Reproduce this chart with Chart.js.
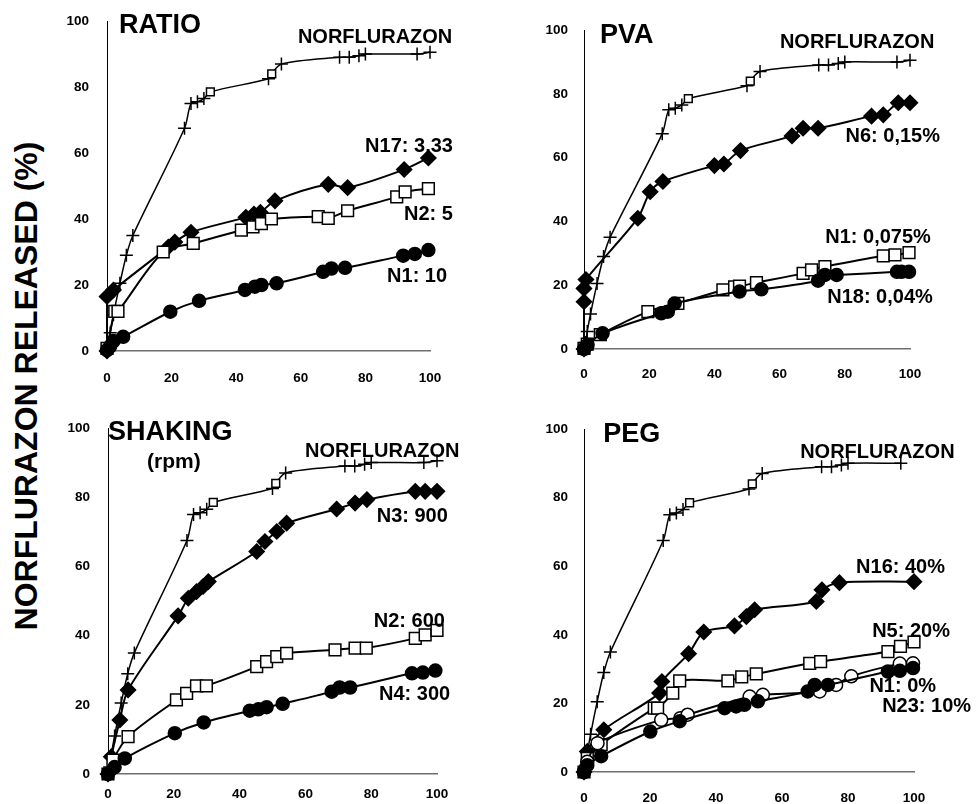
<!DOCTYPE html>
<html>
<head>
<meta charset="utf-8">
<script src="https://cdn.jsdelivr.net/npm/chart.js@4/dist/chart.umd.min.js"></script>
<style>
  body { margin: 0; background: #fff; width: 976px; height: 804px; overflow: hidden; position: relative; }
  canvas { position: absolute; }
  #ytitle {
    position: absolute; left: 26px; top: 386px;
    transform: translate(-50%, -50%) rotate(-90deg);
    font: bold 32px "Liberation Sans", Arial, sans-serif;
    white-space: nowrap; color: #000;
  }
</style>
</head>
<body>
<div id="ytitle">NORFLURAZON RELEASED (%)</div>
<canvas id="ratio"></canvas>
<canvas id="pva"></canvas>
<canvas id="shaking"></canvas>
<canvas id="peg"></canvas>
<script>
// time axis (0-100) and % released

// free norflurazon, same curve in every panel
const norfTime = [0, 0.5, 1, 2, 4, 6, 8, 24, 26, 28, 30, 32, 50, 51, 54, 72, 75, 78, 80, 96, 100];
const norfRel = [0, 2, 5.5, 11, 20.5, 29, 35, 67.5, 75, 75.5, 76.5, 78.5, 82.5, 84, 87, 89, 89, 89.5, 90, 90, 90.5];

// RATIO
const ratioN17X = [0, 0, 2, 19, 21, 26, 43, 45.5, 47.5, 52, 68.5, 74.5, 92, 99.5];
const ratioN17Y = [0, 16.5, 18.5, 31.5, 33, 36, 40.5, 41.5, 42, 45.5, 50.5, 49.5, 55, 58.5];
const ratioN2X = [0, 2.4, 3.4, 17.4, 26.7, 41.6, 45.2, 47.8, 50.9, 65.4, 68.5, 74.5, 89.7, 92.3, 99.5];
const ratioN2Y = [0.8, 12, 12, 30, 32.6, 36.6, 37.6, 38.6, 40, 40.7, 40.2, 42.5, 46.7, 48.2, 49.2];
const ratioN1X = [0, 1, 2, 5, 19.6, 28.5, 42.7, 45.8, 47.8, 52.5, 66.9, 69.5, 73.7, 91.7, 95.3, 99.5];
const ratioN1Y = [0.3, 1.5, 3, 4.3, 11.9, 15.2, 18.5, 19.5, 20, 20.5, 24, 25, 25.2, 28.9, 29.4, 30.6];

// PVA
const pvaN6X = [0, 0, 0, 0.6, 16.5, 20.3, 24.2, 40, 42.9, 48, 63.8, 67.2, 71.8, 88.2, 91.8, 96.4, 100];
const pvaN6Y = [0, 14.8, 19, 21.8, 41, 49.3, 52.5, 57.5, 58, 62.2, 66.8, 69.2, 69.2, 73, 73.4, 77.2, 77.2];
const pvaN1X = [0, 1, 5, 19.6, 28.8, 42.6, 46.2, 47.7, 52.9, 67.2, 69.8, 73.9, 91.8, 95.4, 99.7];
const pvaN1Y = [0.2, 1.5, 4.5, 11.7, 14.3, 18.5, 19.5, 19.7, 20.8, 23.7, 24.8, 25.8, 29.2, 29.5, 30.2];
const pvaN18X = [0, 1.1, 5.7, 23.7, 25.7, 27.8, 47.7, 54.4, 71.8, 73.9, 77.5, 96, 97.4, 99.7];
const pvaN18Y = [0, 1.3, 4.9, 11.2, 11.7, 14.3, 18, 18.7, 21.4, 23.2, 23.2, 24.2, 24.2, 24.2];

// SHAKING (rpm)
const shakeN3X = [0, 1, 3.6, 6.1, 21.3, 24.4, 26.9, 28.9, 30.5, 45.2, 47.7, 51.3, 54.3, 69.5, 75.1, 78.7, 93.4, 96.4, 100];
const shakeN3Y = [0, 5, 15.6, 24.3, 45.7, 50.8, 52.7, 54.2, 55.6, 64.3, 67.2, 70.1, 72.5, 76.6, 78.3, 79.3, 81.7, 81.7, 81.7];
const shakeN2X = [0, 1.5, 6.1, 20.8, 23.9, 26.9, 29.9, 45.2, 48.2, 51.3, 54.3, 69, 75.1, 78.5, 93.4, 96.4, 100];
const shakeN2Y = [0, 4, 10.8, 21.4, 23.3, 25.5, 25.5, 31, 32.5, 33.9, 34.9, 35.9, 36.4, 36.4, 39.2, 40.2, 41.5];
const shakeN4X = [0, 2, 5.1, 20.3, 29.1, 43.1, 45.7, 48.2, 53.1, 68, 70.4, 73.6, 92.4, 95.7, 99.5];
const shakeN4Y = [0, 2, 4.5, 11.8, 14.9, 18.3, 18.7, 19.3, 20.3, 23.8, 25, 25, 29.1, 29.3, 29.9];

// PEG
const pegN16X = [0, 1, 6, 22.9, 23.6, 31.7, 36.3, 45.6, 49.2, 51.7, 70.4, 72.1, 77.4, 100];
const pegN16Y = [0, 6, 12.3, 23, 26.4, 34.5, 40.8, 42.6, 45.3, 47.3, 49.7, 53.1, 55.2, 55.5];
const pegN5X = [0, 1, 5.2, 21.3, 22.3, 26.9, 29, 43.6, 47.8, 52.2, 68.4, 71.7, 92.1, 95.9, 100];
const pegN5Y = [0, 4, 8, 18.6, 18.6, 23, 26.6, 26.6, 27.7, 28.6, 31.7, 32.2, 35.1, 36.6, 37.9];
const pegN1X = [0, 1, 5.2, 20.1, 29, 42.6, 46.1, 48.6, 52.7, 67.8, 69.9, 73.9, 92.1, 95.7, 99.7];
const pegN1Y = [0, 2, 4.6, 11.8, 14.8, 18.6, 19.1, 19.6, 20.6, 23.5, 25.4, 25.4, 29.3, 29.5, 30.3];
const pegN23X = [0, 1, 4.1, 23.4, 29.2, 31.4, 50.2, 54.2, 71.4, 76.4, 81, 95.7, 99.7];
const pegN23Y = [0, 3, 8.4, 15.2, 15.7, 16.7, 22, 22.5, 23.5, 25.4, 27.9, 31.6, 31.7];

const axisTicks = [0, 20, 40, 60, 80, 100];

const FONT = '"Liberation Sans", Arial, sans-serif';

function pts(xs, ys) {
    return xs.map((x, i) => ({ x: x, y: ys[i] }));
}

// marker looks
const MARK = {
    diamond: { pointStyle: 'rectRot', pointRadius: 7.5, pointBackgroundColor: '#000' },
    square: { pointStyle: 'rect', pointRadius: 8.3, pointBackgroundColor: '#fff' },
    dot: { pointStyle: 'circle', pointRadius: 6.5, pointBackgroundColor: '#000' },
    ring: { pointStyle: 'circle', pointRadius: 6.5, pointBackgroundColor: '#fff' }
};

function series(xs, ys, mark) {
    return Object.assign({
        data: pts(xs, ys),
        borderColor: '#000',
        borderWidth: 2,
        pointBorderColor: '#000',
        pointBorderWidth: 1.5,
        tension: 0.3,
        clip: false
    }, MARK[mark]);
}

function norfSeries(n) {
    const xs = norfTime.slice(0, n);
    const ys = norfRel.slice(0, n);
    // a few points carry a small square in the original
    const styles = xs.map(x => (x === 32 || x === 51) ? 'rect' : 'cross');
    return {
        data: pts(xs, ys),
        borderColor: '#000',
        borderWidth: 1.5,
        pointStyle: styles,
        pointRadius: styles.map(s => s === 'rect' ? 5.5 : 6.5),
        pointBackgroundColor: '#fff',
        pointBorderColor: '#000',
        pointBorderWidth: 1.5,
        tension: 0.3,
        clip: false
    };
}

const panelText = {
    id: 'panelText',
    afterDraw(chart, args, opts) {
        const ctx = chart.ctx;
        const xs = chart.scales.x, ys = chart.scales.y;
        ctx.save();
        ctx.fillStyle = '#000';
        ctx.textBaseline = 'alphabetic';
        opts.items.forEach(t => {
            ctx.font = 'bold ' + (t.size || 20) + 'px ' + FONT;
            ctx.textAlign = t.align || 'left';
            ctx.fillText(t.text, xs.getPixelForValue(t.x), ys.getPixelForValue(t.y));
        });
        ctx.restore();
    }
};

// box = chart area in page pixels
function makePanel(id, box, datasets, items, xPad, yPad) {
    const left = 70, top = 30, right = 70, bottom = 50;
    const w = box.r - box.l, h = box.b - box.t;
    const cv = document.getElementById(id);
    cv.style.left = (box.l - left) + 'px';
    cv.style.top = (box.t - top) + 'px';
    cv.width = w + left + right;
    cv.height = h + top + bottom;

    new Chart(cv, {
        type: 'scatter',
        data: { datasets: datasets.map(d => Object.assign({ showLine: true }, d)) },
        options: {
            responsive: false,
            animation: false,
            devicePixelRatio: 1,
            layout: { padding: { top: top, right: right, bottom: 0, left: 0 } },
            plugins: {
                legend: { display: false },
                tooltip: { enabled: false },
                panelText: { items: items }
            },
            scales: {
                x: {
                    type: 'linear', min: 0, max: 100,
                    afterBuildTicks: s => { s.ticks = axisTicks.map(v => ({ value: v })); },
                    afterFit: s => { s.height = bottom; },
                    grid: { display: false, drawTicks: false },
                    border: { display: true, color: '#6e6e6e', width: 1.5 },
                    ticks: { padding: xPad, color: '#000', font: { family: FONT, size: 13.5, weight: 'bold' } }
                },
                y: {
                    type: 'linear', min: 0, max: 100,
                    afterBuildTicks: s => { s.ticks = axisTicks.map(v => ({ value: v })); },
                    afterFit: s => { s.width = left; },
                    grid: { display: false, drawTicks: false },
                    border: { display: true, color: '#000', width: 1 },
                    ticks: { padding: yPad, color: '#000', font: { family: FONT, size: 13.5, weight: 'bold' } }
                }
            }
        },
        plugins: [panelText]
    });
}

makePanel('ratio', { l: 107, t: 21, r: 430, b: 351 }, [
    series(ratioN1X, ratioN1Y, 'dot'),
    series(ratioN2X, ratioN2Y, 'square'),
    series(ratioN17X, ratioN17Y, 'diamond'),
    norfSeries(norfTime.length)
], [
    { text: 'RATIO', x: 3.7, y: 96.4, size: 27 },
    { text: 'NORFLURAZON', x: 59.1, y: 93.3 },
    { text: 'N17: 3,33', x: 107.1, y: 60.3, align: 'right' },
    { text: 'N2: 5', x: 107.1, y: 39.7, align: 'right' },
    { text: 'N1: 10', x: 105.3, y: 20.9, align: 'right' }
], 19, 18);

makePanel('pva', { l: 584, t: 30, r: 910, b: 349 }, [
    series(pvaN18X, pvaN18Y, 'dot'),
    series(pvaN1X, pvaN1Y, 'square'),
    series(pvaN6X, pvaN6Y, 'diamond'),
    norfSeries(norfTime.length)
], [
    { text: 'PVA', x: 4.9, y: 95.9, size: 27 },
    { text: 'NORFLURAZON', x: 60.1, y: 94.4 },
    { text: 'N6: 0,15%', x: 109.2, y: 64.9, align: 'right' },
    { text: 'N1: 0,075%', x: 106.4, y: 33.2, align: 'right' },
    { text: 'N18: 0,04%', x: 107, y: 14.4, align: 'right' }
], 17, 16);

makePanel('shaking', { l: 108, t: 428, r: 437, b: 774 }, [
    series(shakeN4X, shakeN4Y, 'dot'),
    series(shakeN2X, shakeN2Y, 'square'),
    series(shakeN3X, shakeN3Y, 'diamond'),
    norfSeries(norfTime.length)
], [
    { text: 'SHAKING', x: 0, y: 96.5, size: 27 },
    { text: '(rpm)', x: 20, y: 88.4, size: 21, align: 'center' },
    { text: 'NORFLURAZON', x: 59.9, y: 91.6 },
    { text: 'N3: 900', x: 103.3, y: 72.8, align: 'right' },
    { text: 'N2: 600', x: 102.4, y: 42.5, align: 'right' },
    { text: 'N4: 300', x: 104, y: 21.4, align: 'right' }
], 12, 18);

makePanel('peg', { l: 584, t: 429, r: 914, b: 772 }, [
    series(pegN1X, pegN1Y, 'dot'),
    series(pegN23X, pegN23Y, 'ring'),
    series(pegN5X, pegN5Y, 'square'),
    series(pegN16X, pegN16Y, 'diamond'),
    norfSeries(norfTime.length - 1)
], [
    { text: 'PEG', x: 5.8, y: 96.2, size: 27 },
    { text: 'NORFLURAZON', x: 65.5, y: 91.5 },
    { text: 'N16: 40%', x: 109.4, y: 58, align: 'right' },
    { text: 'N5: 20%', x: 110.9, y: 39.4, align: 'right' },
    { text: 'N1: 0%', x: 106.7, y: 23.3, align: 'right' },
    { text: 'N23: 10%', x: 117.3, y: 17.5, align: 'right' }
], 18, 16);
</script>
</body>
</html>
